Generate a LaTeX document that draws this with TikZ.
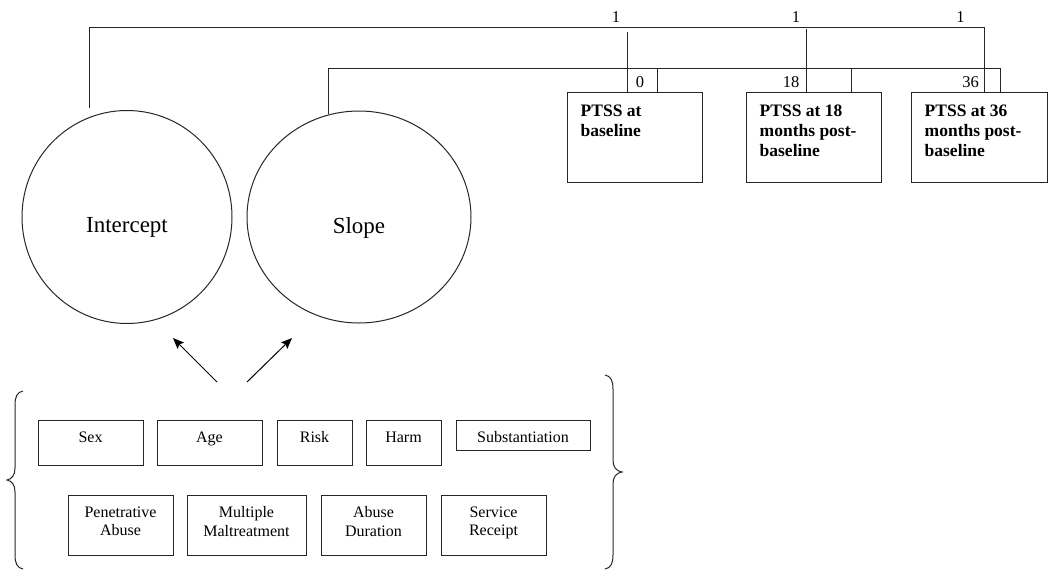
\documentclass[tikz,border=0pt]{standalone}
\usepackage{fontspec}
\setmainfont{Liberation Serif}
\usetikzlibrary{arrows.meta,shapes.geometric}
\begin{document}
\begin{tikzpicture}[x=1pt,y=-1pt,
  conn/.style={line width=1pt,draw=black!85},
  factor/.style={draw=black!85,line width=1pt,ellipse,inner sep=0pt},
  ptssbox/.style={draw=black!85,line width=1pt,rectangle,inner sep=0pt,minimum width=135pt,minimum height=90pt},
  ptsstext/.style={anchor=north west,inner sep=0pt,align=left,font=\bfseries\fontsize{17.5}{20}\selectfont},
  covbox/.style={draw=black!85,line width=1pt,rectangle,inner sep=0pt},
  covtext/.style={anchor=north,inner sep=0pt,align=center,font=\fontsize{16}{18.5}\selectfont},
  numlab/.style={inner sep=0pt,font=\fontsize{16.5}{18}\selectfont},
  arr/.style={line width=1pt,-{Stealth[length=11pt,width=9pt,inset=2pt]}}
]
\useasboundingbox (0,0) rectangle (1050,579);

% latent factors
\node[factor,minimum width=210pt,minimum height=213pt] (icpt) at (127,217) {};
\node[inner sep=0pt,font=\fontsize{23}{27}\selectfont] (icptlab) at (127,227) {Intercept};
\node[factor,minimum width=224pt,minimum height=212pt] (slope) at (359,217) {};
\node[inner sep=0pt,font=\fontsize{23}{27}\selectfont] (slopelab) at (359,227.5) {Slope};

% PTSS boxes
\node[ptssbox] (p1) at (634.5,137) {};
\node[ptssbox] (p2) at (813.5,137) {};
\node[ptssbox,minimum width=136pt] (p3) at (979,137) {};
\node[ptsstext] (t1) at ([shift={(14,13.2)}]p1.north west) {PTSS at\\baseline};
\node[ptsstext] (t2) at ([shift={(14,13.2)}]p2.north west) {PTSS at 18\\months post-\\baseline};
\node[ptsstext] (t3) at ([shift={(14,13.2)}]p3.north west) {PTSS at 36\\months post-\\baseline};

% intercept loadings
\coordinate (iS) at (89,108);
\coordinate (iC) at (89,27);
\coordinate (iE) at (984,27);
\coordinate (i1) at (627,32);
\coordinate (i2) at (806,29);
\draw[conn] (iS) -- (iC) -- (iE) -- (iE |- p3.north);
\draw[conn] (i1) -- (i1 |- p1.north);
\draw[conn] (i2) -- (i2 |- p2.north);

% slope loadings
\coordinate (sS) at (328,114);
\coordinate (sC) at (328,68);
\coordinate (sE) at (1000,68);
\coordinate (s1) at (657,68);
\coordinate (s2) at (851,68);
\draw[conn] (sS) -- (sC) -- (sE) -- (sE |- p3.north);
\draw[conn] (s1) -- (s1 |- p1.north);
\draw[conn] (s2) -- (s2 |- p2.north);

% loading labels
\node[numlab] (l1) at (616,17) {1};
\node[numlab] (l2) at (796,17) {1};
\node[numlab] (l3) at (960.5,17) {1};
\node[numlab] (l0) at (640,82) {0};
\node[numlab] (l18) at (791,82) {18};
\node[numlab] (l36) at (970.5,82) {36};

% covariates row 1
\node[covbox,minimum width=105pt,minimum height=45pt] (sex) at (90.5,442.5) {};
\node[covbox,minimum width=105pt,minimum height=45pt] (age) at (209.5,442.5) {};
\node[covbox,minimum width=75pt,minimum height=45pt] (risk) at (314.5,442.5) {};
\node[covbox,minimum width=75pt,minimum height=45pt] (harm) at (403.5,442.5) {};
\node[covbox,minimum width=134pt,minimum height=30pt] (subst) at (523,435) {};
\node[covtext] (tsex) at ([shift={(0,12)}]sex.north) {Sex};
\node[covtext] (tage) at ([shift={(0,12)}]age.north) {Age};
\node[covtext] (trisk) at ([shift={(0,12)}]risk.north) {Risk};
\node[covtext] (tharm) at ([shift={(0,12)}]harm.north) {Harm};
\node[covtext] (tsubst) at ([shift={(0,12)}]subst.north) {Substantiation};

% covariates row 2
\node[covbox,minimum width=105pt,minimum height=60pt] (pen) at (120.5,525) {};
\node[covbox,minimum width=119pt,minimum height=60pt] (mult) at (246.5,525) {};
\node[covbox,minimum width=105pt,minimum height=60pt] (dur) at (373.5,525) {};
\node[covbox,minimum width=105pt,minimum height=60pt] (serv) at (493.5,525) {};
\node[covtext] (tpen) at ([shift={(0,12)}]pen.north) {Penetrative\\Abuse};
\node[covtext] (tmult) at ([shift={(0,12)}]mult.north) {Multiple\\Maltreatment};
\node[covtext] (tdur) at ([shift={(0,12)}]dur.north) {Abuse\\Duration};
\node[covtext] (tserv) at ([shift={(0,12)}]serv.north) {Service\\Receipt};

% braces
\draw[conn] (23,391) .. controls (17,392) and (15,397) .. (15,405) -- (15,468)
  .. controls (15,475) and (12,479) .. (7,480)
  .. controls (12,481) and (15,485) .. (15,492) -- (15,555)
  .. controls (15,563) and (17,568) .. (23,569);
\draw[conn] (605,375) .. controls (611,376) and (613,381) .. (613,389) -- (613,460)
  .. controls (613,467) and (616,471) .. (622,472)
  .. controls (616,473) and (613,477) .. (613,484) -- (613,555)
  .. controls (613,563) and (611,568) .. (605,569);

% arrows
\coordinate (a1s) at (217,382);
\coordinate (a1e) at (173,338);
\coordinate (a2s) at (247,382);
\coordinate (a2e) at (292,338);
\draw[arr] (a1s) -- (a1e);
\draw[arr] (a2s) -- (a2e);
\end{tikzpicture}
\end{document}
